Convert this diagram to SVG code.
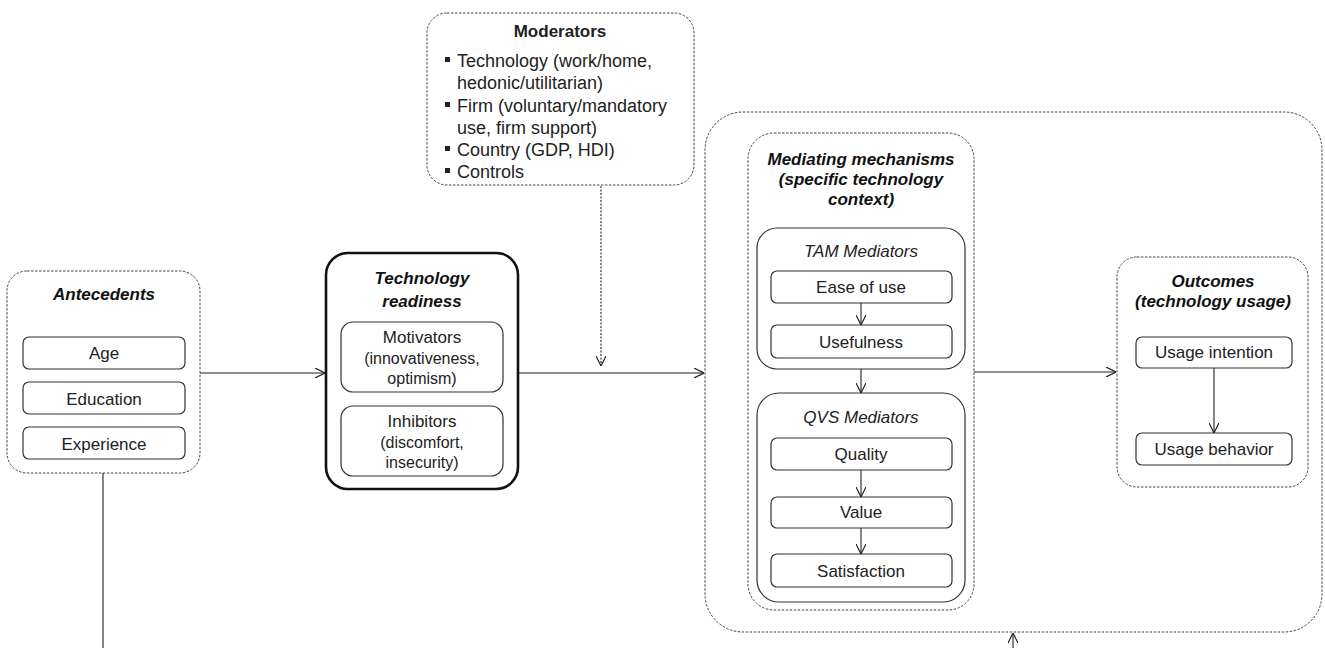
<svg xmlns="http://www.w3.org/2000/svg" width="1325" height="648" viewBox="0 0 1325 648">
<defs>
<marker id="arr" viewBox="0 0 10 10" refX="10" refY="5" markerWidth="10" markerHeight="10" markerUnits="userSpaceOnUse" orient="auto">
<path d="M0,0 L10,5 L0,10" fill="none" stroke="#222" stroke-width="1.2"/>
</marker>
<style>
.dash{fill:#fff;stroke:#444;stroke-width:1;stroke-dasharray:2.5,1.5}
.solid{fill:#fff;stroke:#333;stroke-width:1.2}
.thick{fill:#fff;stroke:#111;stroke-width:2.6}
.t{font-family:"Liberation Sans",Arial,sans-serif;font-size:17px;fill:#222;text-anchor:middle}
.s{font-family:"Liberation Sans",Arial,sans-serif;font-size:16px;fill:#222;text-anchor:middle}
.h{font-family:"Liberation Sans",Arial,sans-serif;font-size:17px;font-weight:bold;font-style:italic;fill:#111;text-anchor:middle}
.i{font-family:"Liberation Sans",Arial,sans-serif;font-size:17px;font-style:italic;fill:#222;text-anchor:middle}
.m{font-family:"Liberation Sans",Arial,sans-serif;font-size:18px;fill:#222}
.c{stroke:#222;stroke-width:1.1;fill:none}
</style>
</defs>

<g id="outer-box">
<rect class="dash" x="705" y="112" width="617" height="520" rx="38"/>
</g>

<g id="moderators">
<rect class="dash" x="427" y="13" width="267" height="172" rx="20"/>
<text x="560" y="37" class="t" font-weight="bold" font-size="18">Moderators</text>
<rect x="445" y="57" width="5" height="5" fill="#222"/>
<text x="457" y="67" class="m">Technology (work/home,</text>
<text x="457" y="89" class="m">hedonic/utilitarian)</text>
<rect x="445" y="102" width="5" height="5" fill="#222"/>
<text x="457" y="112" class="m">Firm (voluntary/mandatory</text>
<text x="457" y="134" class="m">use, firm support)</text>
<rect x="445" y="146" width="5" height="5" fill="#222"/>
<text x="457" y="156" class="m">Country (GDP, HDI)</text>
<rect x="445" y="168" width="5" height="5" fill="#222"/>
<text x="457" y="178" class="m">Controls</text>
</g>

<g id="antecedents">
<rect class="dash" x="7" y="271" width="193" height="202" rx="20"/>
<text x="104" y="300" class="h">Antecedents</text>
<rect class="solid" x="23" y="337" width="162" height="32" rx="6"/>
<text x="104" y="359" class="t">Age</text>
<rect class="solid" x="23" y="382" width="162" height="32" rx="6"/>
<text x="104" y="405" class="t">Education</text>
<rect class="solid" x="23" y="427" width="162" height="32" rx="6"/>
<text x="104" y="450" class="t">Experience</text>
</g>

<g id="technology-readiness">
<rect class="thick" x="326" y="253" width="192" height="236" rx="22"/>
<text x="422" y="284" class="h">Technology</text>
<text x="422" y="307" class="h">readiness</text>
<rect class="solid" x="341" y="322" width="162" height="70" rx="12"/>
<text x="422" y="343" class="t">Motivators</text>
<text x="422" y="364" class="s">(innovativeness,</text>
<text x="422" y="384" class="s">optimism)</text>
<rect class="solid" x="341" y="406" width="162" height="70" rx="12"/>
<text x="422" y="427" class="t">Inhibitors</text>
<text x="422" y="448" class="s">(discomfort,</text>
<text x="422" y="468" class="s">insecurity)</text>
</g>

<g id="mediating-mechanisms">
<rect class="dash" x="748" y="133" width="226" height="477" rx="26"/>
<text x="861" y="165" class="h">Mediating mechanisms</text>
<text x="861" y="185" class="h">(specific technology</text>
<text x="861" y="205" class="h">context)</text>
</g>

<g id="tam-mediators">
<rect class="solid" x="757" y="228" width="208" height="141" rx="20"/>
<text x="861" y="257" class="i">TAM Mediators</text>
</g>
<g id="ease-of-use">
<rect class="solid" x="771" y="271" width="181" height="32" rx="6"/>
<text x="861" y="293" class="t">Ease of use</text>
</g>
<g id="usefulness">
<rect class="solid" x="771" y="325" width="181" height="33" rx="6"/>
<text x="861" y="348" class="t">Usefulness</text>
</g>

<g id="qvs-mediators">
<rect class="solid" x="757" y="393" width="208" height="209" rx="22"/>
<text x="861" y="423" class="i">QVS Mediators</text>
</g>
<g id="quality">
<rect class="solid" x="771" y="438" width="181" height="32" rx="6"/>
<text x="861" y="460" class="t">Quality</text>
</g>
<g id="value">
<rect class="solid" x="771" y="497" width="181" height="31" rx="6"/>
<text x="861" y="518" class="t">Value</text>
</g>
<g id="satisfaction">
<rect class="solid" x="771" y="554" width="181" height="33" rx="6"/>
<text x="861" y="577" class="t">Satisfaction</text>
</g>

<g id="outcomes">
<rect class="dash" x="1117" y="257" width="191" height="230" rx="20"/>
<text x="1213" y="287" class="h">Outcomes</text>
<text x="1213" y="307" class="h">(technology usage)</text>
</g>
<g id="usage-intention">
<rect class="solid" x="1136" y="337" width="156" height="31" rx="6"/>
<text x="1214" y="358" class="t">Usage intention</text>
</g>
<g id="usage-behavior">
<rect class="solid" x="1136" y="433" width="156" height="32" rx="6"/>
<text x="1214" y="455" class="t">Usage behavior</text>
</g>

<g id="connectors">
<line class="c" x1="200" y1="373" x2="325" y2="373" marker-end="url(#arr)"/>
<line class="c" x1="518" y1="373" x2="704" y2="373" marker-end="url(#arr)"/>
<line class="c" x1="601" y1="186" x2="601" y2="366" stroke-dasharray="2,1.5" marker-end="url(#arr)"/>
<line class="c" x1="974" y1="372" x2="1116" y2="372" marker-end="url(#arr)"/>
<line class="c" x1="861" y1="303" x2="861" y2="325" marker-end="url(#arr)"/>
<line class="c" x1="861" y1="369" x2="861" y2="393" marker-end="url(#arr)"/>
<line class="c" x1="861" y1="470" x2="861" y2="497" marker-end="url(#arr)"/>
<line class="c" x1="861" y1="528" x2="861" y2="554" marker-end="url(#arr)"/>
<line class="c" x1="1214" y1="368" x2="1214" y2="433" marker-end="url(#arr)"/>
<line class="c" x1="103" y1="473" x2="103" y2="648"/>
<line class="c" x1="1013" y1="648" x2="1013" y2="633" marker-end="url(#arr)"/>
</g>
</svg>
